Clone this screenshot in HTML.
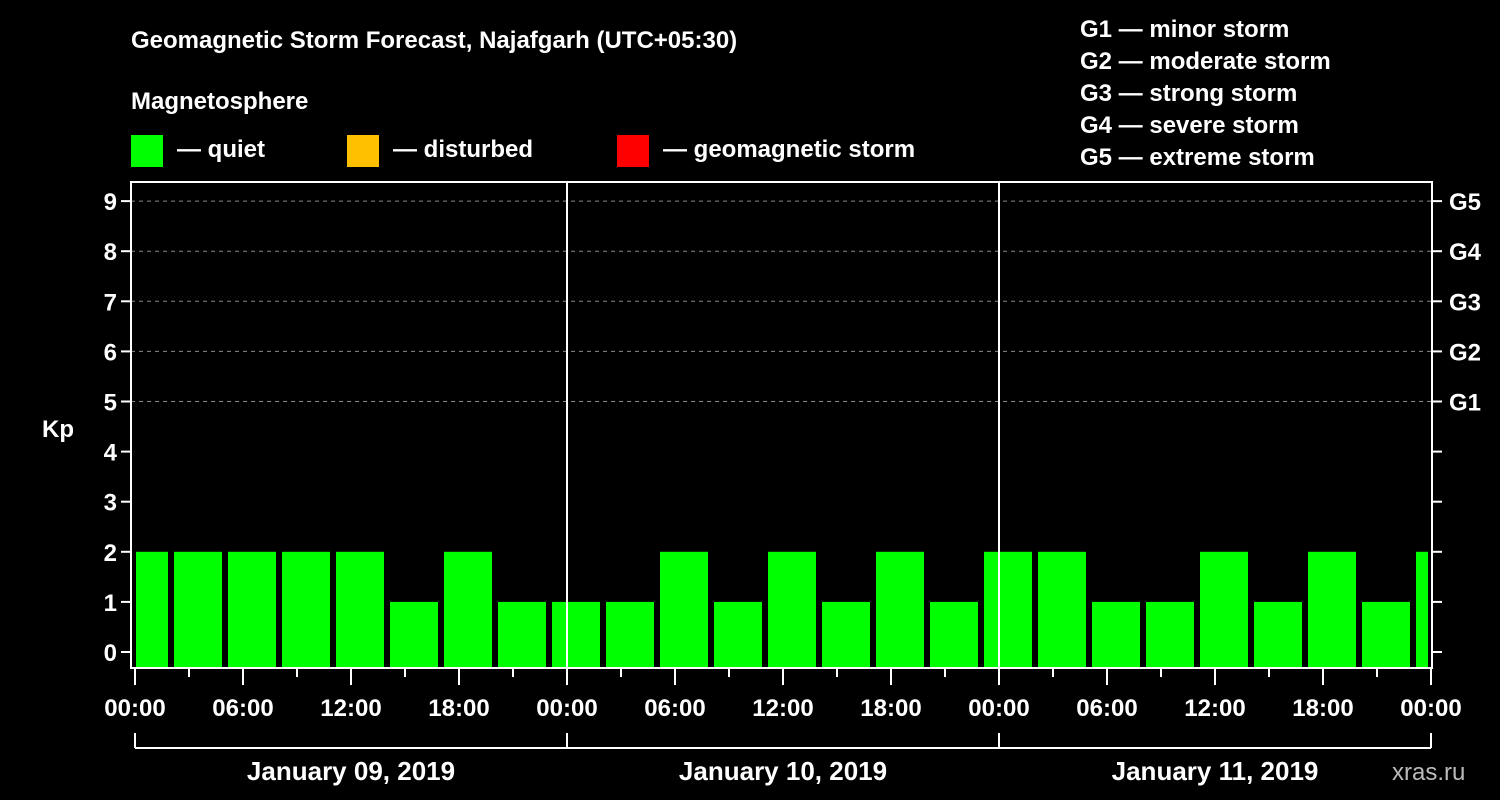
<!DOCTYPE html>
<html><head><meta charset="utf-8"><style>
body{margin:0;background:#000;width:1500px;height:800px;overflow:hidden}
svg{display:block}
text{font-family:"Liberation Sans",Arial,sans-serif;font-weight:bold;fill:#fff}
</style></head><body>
<svg id="c" width="1500" height="800" xmlns="http://www.w3.org/2000/svg">
<rect width="1500" height="800" fill="#000"/>
<text x="131" y="48" font-size="24">Geomagnetic Storm Forecast, Najafgarh (UTC+05:30)</text>
<text x="131" y="109" font-size="24">Magnetosphere</text>
<rect x="131" y="135" width="32" height="32" fill="#00ff00"/>
<text x="177" y="157" font-size="24">— quiet</text>
<rect x="347" y="135" width="32" height="32" fill="#ffc000"/>
<text x="393" y="157" font-size="24">— disturbed</text>
<rect x="617" y="135" width="32" height="32" fill="#ff0000"/>
<text x="663" y="157" font-size="24">— geomagnetic storm</text>
<text x="1080" y="37" font-size="24">G1 — minor storm</text>
<text x="1080" y="69" font-size="24">G2 — moderate storm</text>
<text x="1080" y="101" font-size="24">G3 — strong storm</text>
<text x="1080" y="133" font-size="24">G4 — severe storm</text>
<text x="1080" y="165" font-size="24">G5 — extreme storm</text>
<text x="42" y="437" font-size="24">Kp</text>
<text x="1392" y="780" font-size="24" fill="#fff" style="font-weight:normal;fill:#bbb">xras.ru</text>
<g id="g"></g>
</svg>
<script>
const kpValues=[2,2,2,2,2,1,2,1,1,1,2,1,2,1,2,1,2,2,1,1,2,1,2,1,2];
const binStartHours=[-1,2,5,8,11,14,17,20,23,26,29,32,35,38,41,44,47,50,53,56,59,62,65,68,71];
const yTicks=[0,1,2,3,4,5,6,7,8,9];
const gLabels=["G1","G2","G3","G4","G5"];
const gLevels=[5,6,7,8,9];
const xTickLabels=["00:00","06:00","12:00","18:00","00:00","06:00","12:00","18:00","00:00","06:00","12:00","18:00","00:00"];
const dayLabels=["January 09, 2019","January 10, 2019","January 11, 2019"];
const NS="http://www.w3.org/2000/svg";
const g=document.getElementById('g');
const X0=135,PXH=18,XL=131,XR=1432,YT=182,YB=668;
const xs=h=>X0+h*PXH;
const ys=v=>652-v*50.1;
function mk(t,a){const e=document.createElementNS(NS,t);for(const k in a)e.setAttribute(k,a[k]);g.appendChild(e);return e;}
// grid
gLevels.forEach(v=>{const e=mk('line',{x1:XL,x2:XR,y1:ys(v),y2:ys(v),stroke:'#888','stroke-dasharray':'4,4'});

});
// bars
kpValues.forEach((v,i)=>{let x1=Math.max(xs(binStartHours[i])+3,X0+1),x2=Math.min(xs(binStartHours[i]+3)-3,XR-4);
const c=v>=5?'#ff0000':v>=4?'#ffc000':'#00ff00';
const e=mk('rect',{x:x1,y:ys(v),width:x2-x1,height:YB-1-ys(v),fill:c});

});
// day separators
[1,2].forEach(d=>{const e=mk('line',{x1:xs(24*d),x2:xs(24*d),y1:YT,y2:YB,stroke:'#fff','stroke-width':2});

});
// frame
const f=mk('rect',{x:XL,y:YT,width:XR-XL,height:YB-YT,fill:'none',stroke:'#fff','stroke-width':2});


// y ticks
yTicks.forEach(v=>{mk('line',{x1:XL-10,x2:XL,y1:ys(v),y2:ys(v),stroke:'#fff','stroke-width':2});
mk('line',{x1:XR,x2:XR+10,y1:ys(v),y2:ys(v),stroke:'#fff','stroke-width':2});
const t=mk('text',{x:XL-14,y:ys(v)+9,'font-size':24,'text-anchor':'end'});t.textContent=v;

});
gLabels.forEach((l,i)=>{const t=mk('text',{x:1449,y:ys(gLevels[i])+9,'font-size':24});t.textContent=l;

});
// x ticks
for(let h=0;h<=72;h+=3){const major=h%6===0;mk('line',{x1:xs(h),x2:xs(h),y1:YB,y2:major?685:677,stroke:'#fff','stroke-width':2});}
xTickLabels.forEach((l,i)=>{const t=mk('text',{x:xs(i*6),y:716,'font-size':24,'text-anchor':'middle'});t.textContent=l;

});
// bracket
mk('line',{x1:xs(0),x2:xs(72),y1:748,y2:748,stroke:'#fff','stroke-width':2});
for(let d=0;d<=3;d++)mk('line',{x1:xs(24*d),x2:xs(24*d),y1:733,y2:748,stroke:'#fff','stroke-width':2});
dayLabels.forEach((l,i)=>{const t=mk('text',{x:xs(24*i+12),y:780,'font-size':26,'text-anchor':'middle'});t.textContent=l;

});
</script>
</body></html>
